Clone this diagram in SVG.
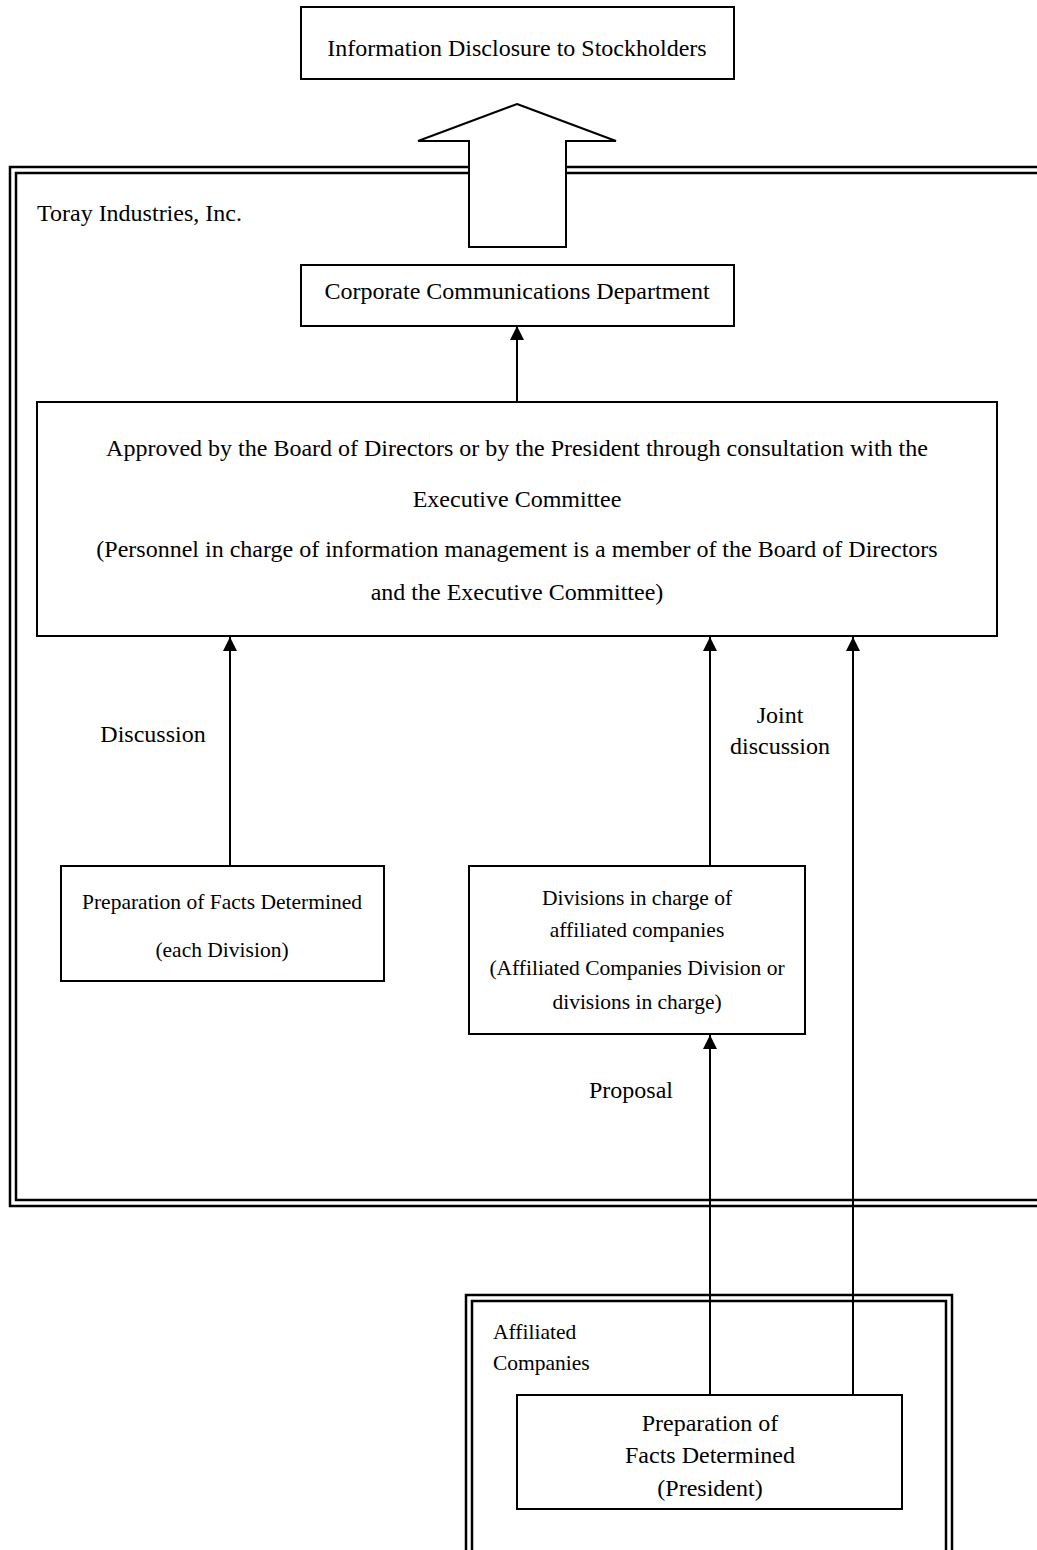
<svg xmlns="http://www.w3.org/2000/svg" width="1037" height="1550" viewBox="0 0 1037 1550">
<defs>
<style>
.box{fill:#fff;stroke:#000;stroke-width:2}
.frame{fill:none;stroke:#000;stroke-width:2.5}
.t{font-family:"Liberation Serif","Times New Roman",serif;font-size:24px;fill:#000}
.s{font-size:21.5px}
.c{text-anchor:middle}
.ln{fill:none;stroke:#000;stroke-width:2}
</style>
<marker id="ah" viewBox="0 0 10 10" refX="10" refY="5" markerWidth="18" markerHeight="14" markerUnits="userSpaceOnUse" orient="auto">
<path d="M0,0 L10,5 L0,10 Z" fill="#000"/>
</marker>
</defs>
<rect width="1037" height="1550" fill="#fff"/>

<g id="toray-frame">
<rect class="frame" x="10" y="167" width="1050" height="1039"/>
<rect class="frame" x="16" y="173" width="1050" height="1027"/>
<text class="t" x="37" y="221">Toray Industries, Inc.</text>
</g>

<g id="affiliated-frame">
<rect class="frame" x="466" y="1295" width="486" height="300"/>
<rect class="frame" x="472" y="1301" width="474" height="300"/>
<text class="t s" x="493" y="1339">Affiliated</text>
<text class="t s" x="493" y="1370">Companies</text>
</g>

<g id="disclosure">
<rect class="box" x="301" y="7" width="433" height="72"/>
<text class="t c" x="517" y="56">Information Disclosure to Stockholders</text>
</g>

<g id="big-arrow">
<polygon class="box" points="517,104 616,141 566,141 566,247 469,247 469,141 418,141"/>
</g>

<g id="corp-comm">
<rect class="box" x="301" y="265" width="433" height="61"/>
<text class="t c" x="517" y="299">Corporate Communications Department</text>
</g>

<g id="approval">
<rect class="box" x="37" y="402" width="960" height="234"/>
<text class="t c" x="517" y="456">Approved by the Board of Directors or by the President through consultation with the</text>
<text class="t c" x="517" y="507">Executive Committee</text>
<text class="t c" x="517" y="557">(Personnel in charge of information management is a member of the Board of Directors</text>
<text class="t c" x="517" y="600">and the Executive Committee)</text>
</g>

<g id="prep-division">
<rect class="box" x="61" y="866" width="323" height="115"/>
<text class="t s c" x="222" y="909">Preparation of Facts Determined</text>
<text class="t s c" x="222" y="957">(each Division)</text>
</g>

<g id="divisions-affiliated">
<rect class="box" x="469" y="866" width="336" height="168"/>
<text class="t s c" x="637" y="905">Divisions in charge of</text>
<text class="t s c" x="637" y="937">affiliated companies</text>
<text class="t s c" x="637" y="975">(Affiliated Companies Division or</text>
<text class="t s c" x="637" y="1009">divisions in charge)</text>
</g>

<g id="prep-president">
<rect class="box" x="517" y="1395" width="385" height="114"/>
<text class="t c" x="710" y="1431">Preparation of</text>
<text class="t c" x="710" y="1463">Facts Determined</text>
<text class="t c" x="710" y="1496">(President)</text>
</g>

<g id="connectors">
<line class="ln" x1="517" y1="402" x2="517" y2="326" marker-end="url(#ah)"/>
<line class="ln" x1="230" y1="866" x2="230" y2="637" marker-end="url(#ah)"/>
<line class="ln" x1="710" y1="866" x2="710" y2="637" marker-end="url(#ah)"/>
<line class="ln" x1="853" y1="1395" x2="853" y2="637" marker-end="url(#ah)"/>
<line class="ln" x1="710" y1="1395" x2="710" y2="1035" marker-end="url(#ah)"/>
<text class="t c" x="153" y="742">Discussion</text>
<text class="t c" x="780" y="723">Joint</text>
<text class="t c" x="780" y="754">discussion</text>
<text class="t c" x="631" y="1098">Proposal</text>
</g>
</svg>
